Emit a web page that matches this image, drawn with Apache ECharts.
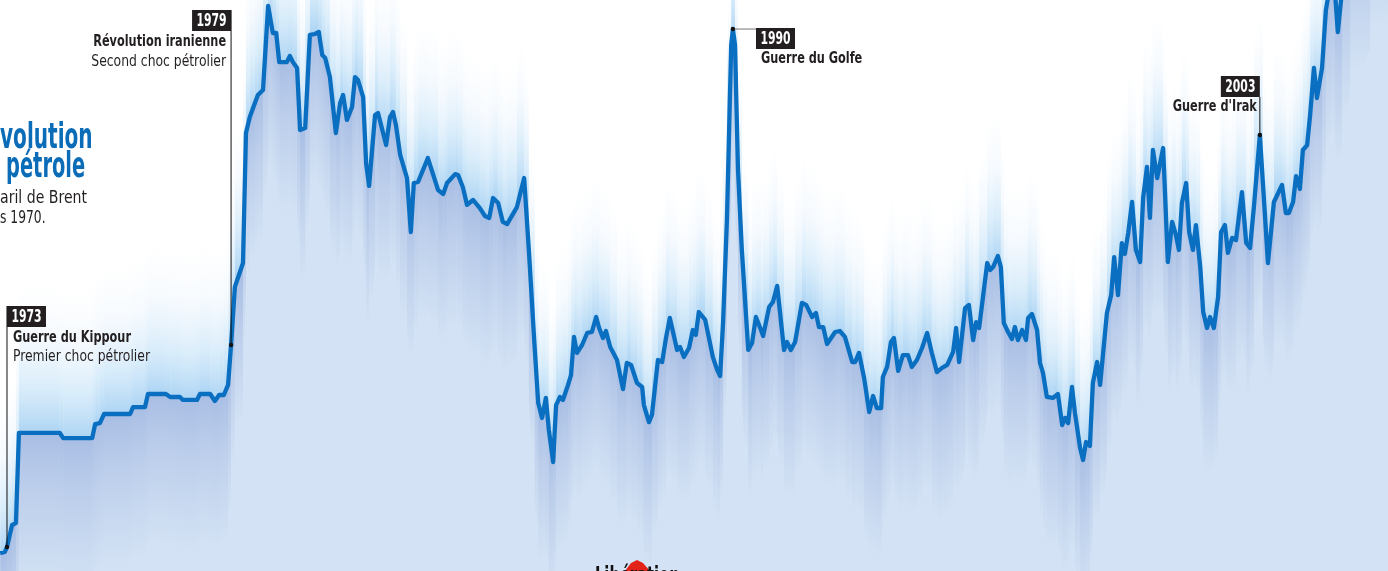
<!DOCTYPE html>
<html><head><meta charset="utf-8">
<script src="https://cdn.jsdelivr.net/npm/echarts@6/dist/echarts.min.js"></script>
<style>html,body{margin:0;padding:0;background:#fff;}#c{width:1388px;height:571px;}</style>
</head><body><div id="c"></div>
<script>
// Brent price (USD/barrel), decimal years
const years = [1973.63,1973.74,1973.79,1973.91,1974.00,1974.07,1975.03,1975.11,1975.79,1975.86,1975.97,1976.07,1976.68,1976.75,1977.03,1977.10,1977.52,1977.62,1977.85,1977.92,1978.25,1978.32,1978.56,1978.67,1978.77,1978.88,1978.98,1979.05,1979.14,1979.33,1979.40,1979.49,1979.61,1979.68,1979.80,1979.92,1980.03,1980.11,1980.18,1980.27,1980.36,1980.43,1980.50,1980.60,1980.67,1980.79,1980.90,1981.02,1981.11,1981.19,1981.26,1981.37,1981.51,1981.61,1981.68,1981.77,1981.89,1981.96,1982.03,1982.15,1982.22,1982.29,1982.43,1982.50,1982.69,1982.78,1982.85,1982.92,1983.02,1983.18,1983.27,1983.34,1983.44,1983.67,1983.91,1984.03,1984.12,1984.31,1984.38,1984.49,1984.59,1984.73,1984.89,1985.01,1985.11,1985.20,1985.32,1985.43,1985.53,1985.76,1985.93,1986.04,1986.18,1986.26,1986.35,1986.44,1986.51,1986.61,1986.68,1986.77,1986.84,1986.96,1987.03,1987.10,1987.17,1987.29,1987.41,1987.52,1987.62,1987.69,1987.78,1987.85,1987.95,1988.11,1988.25,1988.34,1988.44,1988.58,1988.70,1988.74,1988.86,1988.93,1989.07,1989.17,1989.26,1989.35,1989.52,1989.59,1989.68,1989.80,1989.89,1989.96,1990.03,1990.18,1990.36,1990.46,1990.53,1990.60,1990.69,1990.79,1990.83,1990.88,1990.95,1991.04,1991.19,1991.28,1991.37,1991.49,1991.54,1991.68,1991.77,1991.87,1992.03,1992.10,1992.19,1992.29,1992.45,1992.55,1992.69,1992.78,1992.85,1992.95,1993.04,1993.23,1993.34,1993.46,1993.63,1993.70,1993.79,1993.91,1994.03,1994.12,1994.21,1994.31,1994.35,1994.45,1994.54,1994.61,1994.71,1994.82,1994.94,1995.03,1995.15,1995.27,1995.39,1995.50,1995.62,1995.74,1995.86,1995.90,1996.00,1996.07,1996.14,1996.28,1996.37,1996.47,1996.54,1996.61,1996.80,1996.87,1996.94,1997.05,1997.12,1997.19,1997.29,1997.38,1997.45,1997.52,1997.62,1997.71,1997.76,1997.85,1997.97,1998.04,1998.11,1998.20,1998.34,1998.46,1998.56,1998.63,1998.70,1998.79,1998.86,1998.98,1999.05,1999.12,1999.21,1999.28,1999.38,1999.45,1999.61,1999.71,1999.78,1999.87,1999.96,2000.03,2000.11,2000.20,2000.29,2000.39,2000.46,2000.55,2000.62,2000.69,2000.79,2000.93,2001.04,2001.14,2001.23,2001.30,2001.37,2001.47,2001.54,2001.63,2001.70,2001.80,2001.87,2001.96,2002.03,2002.12,2002.22,2002.29,2002.38,2002.45,2002.55,2002.64,2002.78,2002.88,2002.97,2003.06,2003.20,2003.27,2003.39,2003.53,2003.72,2003.81,2003.88,2003.98,2004.05,2004.14,2004.21,2004.31,2004.38,2004.47,2004.54,2004.66,2004.75,2004.85,2004.96,2005.03,2005.13,2005.32,2005.79,2006.37];
const prices = [4.48,4.55,4.85,6.18,6.30,11.76,11.76,11.45,11.45,12.30,12.36,12.91,12.91,13.33,13.33,14.12,14.12,13.94,13.94,13.76,13.76,14.12,14.12,13.70,14.06,14.06,14.67,17.09,20.61,22.06,29.94,30.91,31.76,32.24,32.55,37.64,36.00,36.00,34.24,34.24,34.24,34.61,34.24,33.88,30.12,30.24,35.88,35.94,36.06,34.67,34.48,33.33,29.94,31.76,32.24,30.73,31.52,33.33,33.15,32.12,28.12,26.73,31.03,31.15,29.21,30.91,31.21,30.42,28.61,27.21,23.94,26.91,26.97,28.42,26.48,26.24,26.91,27.45,27.39,26.67,25.58,25.88,25.39,24.91,24.79,26.00,25.70,24.55,24.42,25.45,27.21,22.85,16.79,13.58,12.67,13.88,11.94,10.00,13.45,13.94,13.76,14.67,15.27,17.58,16.61,17.09,17.82,17.88,18.79,18.12,17.52,17.94,16.97,16.18,14.42,16.00,15.88,14.79,14.55,13.45,12.42,12.85,16.18,16.06,17.52,18.73,16.79,16.97,16.36,16.91,18.00,17.70,19.09,18.61,16.36,15.58,15.21,18.48,24.67,35.27,36.24,35.27,27.70,22.85,16.79,17.21,18.79,18.00,17.64,19.39,19.70,20.67,16.79,17.27,16.79,17.27,19.64,19.52,18.79,19.03,18.18,18.18,17.15,17.88,17.94,17.58,16.06,16.06,16.61,15.09,13.03,14.00,13.27,13.27,15.15,15.76,17.27,17.52,15.52,16.48,16.48,15.76,16.18,16.91,17.82,16.61,15.45,15.70,15.88,16.00,16.67,18.12,16.06,19.33,19.52,17.39,18.48,18.12,22.06,21.64,21.82,22.48,21.82,18.42,17.88,17.45,18.18,17.39,18.00,17.39,18.73,18.97,18.00,16.00,15.39,13.94,13.88,14.12,12.24,12.67,12.36,14.55,12.97,10.85,10.12,11.21,10.97,14.79,16.06,14.67,19.03,20.12,22.42,20.12,23.27,22.61,23.88,25.76,22.85,22.12,26.00,27.88,24.79,28.91,27.21,29.03,22.12,24.55,23.76,22.85,25.70,26.91,23.94,22.85,24.36,21.82,19.09,18.12,18.79,18.12,20.00,23.94,24.36,22.67,23.58,23.45,26.36,23.27,22.97,25.45,29.82,26.97,22.06,25.76,26.79,25.09,25.09,25.76,27.33,26.55,28.91,29.21,31.03,33.88,32.06,33.88,37.39,38.91,38.61,36.06,38.61,41.64,44.06,47.09];

// annotated events
const eventYears  = ['1973','1979','1990','2003'];
const eventDates  = [1973.79, 1979.05, 1990.83, 2003.20];
const eventPrices = [4.85, 17.09, 36.24, 29.82];
const eventTitles = ['Guerre du Kippour','Révolution iranienne','Guerre du Golfe','Guerre d\'Irak'];
const eventSubs   = ['Premier choc pétrolier','Second choc pétrolier','',''];

const titleLines = ['volution','pétrole'];
const subLines = ['aril de Brent','s 1970.'];

const data = years.map((y,i)=>[y,prices[i]]);
const FN = "'DejaVu Sans Condensed','Liberation Sans',sans-serif";

// soft bands following the line: dir -1 = glow above, +1 = shade below
function bandSeries(dir, H, stops, z){
  return {type:'custom', z:z, silent:true, clip:true, data:data.slice(0,-1),
    renderItem:function(params, api){
      const i = params.dataIndex;
      const a = api.coord(data[i]), b = api.coord(data[i+1]);
      const ym = (a[1]+b[1])/2;
      const grad = new echarts.graphic.LinearGradient(0, ym, 0, ym+dir*H,
        stops.map(s=>({offset:s[0],color:s[1]})), true);
      return {type:'polygon', shape:{points:[[a[0],a[1]],[b[0],b[1]],[b[0],b[1]+dir*H],[a[0],a[1]+dir*H]]},
        style:{fill:grad}};
    }};
}

const chart = echarts.init(document.getElementById('c'));
chart.setOption({
  animation:false,
  backgroundColor:'#ffffff',
  grid:{left:0,right:0,top:0,bottom:0},
  xAxis:{type:'value',min:1973.626,max:2006.208,show:false},
  yAxis:{type:'value',min:3.394,max:38,show:false},
  series:[
    bandSeries(-1, 150, [[0,'rgba(118,184,236,0.6)'],[0.3,'rgba(150,204,242,0.36)'],[0.65,'rgba(180,215,246,0.12)'],[1,'rgba(200,225,250,0)']], 1),
    {type:'line',data:data,symbol:'none',z:2,silent:true,
     lineStyle:{width:0,opacity:0},
     areaStyle:{color:'#d3e2f4',opacity:1}},
    bandSeries(1, 150, [[0,'rgba(105,135,205,0.40)'],[0.35,'rgba(110,140,205,0.24)'],[1,'rgba(110,140,205,0)']], 3),
    {type:'line',data:data,symbol:'none',z:4,silent:true,
     lineStyle:{width:4.3,color:'#0a6fc0',join:'round'}}
  ]
});

const P = i => chart.convertToPixel({gridIndex:0},[eventDates[i],eventPrices[i]]);
const BOX = '#231f20';
const g = [];
function box(x,y,label){
  g.push({type:'rect',shape:{x:x,y:y,width:39,height:21},style:{fill:BOX},z:10});
  g.push({type:'text',x:x+19.5,y:y+11,scaleX:0.67,z:11,style:{text:label,fill:'#fff',font:'bold 18px '+FN,align:'center',verticalAlign:'middle'}});
}
function txt(x,y,s,bold,align){
  g.push({type:'text',x:x,y:y,scaleX:bold?0.785:0.86,z:11,style:{text:s,fill:BOX,font:(bold?'bold ':'')+'16px '+FN,align:align||'left',verticalAlign:'middle'}});
}
function dot(p){g.push({type:'circle',shape:{cx:p[0],cy:p[1],r:2.2},style:{fill:'#111'},z:12});}
function vline(x1,y1,x2,y2,c){g.push({type:'line',shape:{x1:x1,y1:y1,x2:x2,y2:y2},style:{stroke:c||'#111',lineWidth:1},z:9});}

// 1973
let p = P(0);
vline(p[0],306,p[0],p[1]); box(p[0],306,eventYears[0]);
txt(p[0]+6,338,eventTitles[0],true); txt(p[0]+6,357,eventSubs[0],false); dot(p);
// 1979
p = P(1);
vline(p[0],10,p[0],p[1]); box(p[0]-39,10,eventYears[1]);
txt(p[0]-5,42,eventTitles[1],true,'right'); txt(p[0]-5,62,eventSubs[1],false,'right'); dot(p);
// 1990
p = P(2);
vline(p[0],p[1],756,p[1],'#777'); box(756,28,eventYears[2]);
txt(761,59,eventTitles[2],true); dot(p);
// 2003
p = P(3);
vline(p[0],97,p[0],p[1]); box(p[0]-39,76,eventYears[3]);
txt(p[0]-3,107,eventTitles[3],true,'right'); dot(p);

// title (cropped at left edge)
g.push({type:'text',x:0,y:139,scaleX:0.62,z:11,style:{text:titleLines[0],fill:'#0b6cb7',font:'bold 36px '+FN,align:'left',verticalAlign:'middle'}});
g.push({type:'text',x:6,y:168,scaleX:0.6,z:11,style:{text:titleLines[1],fill:'#0b6cb7',font:'bold 36px '+FN,align:'left',verticalAlign:'middle'}});
g.push({type:'text',x:0,y:198,scaleX:0.87,z:11,style:{text:subLines[0],fill:BOX,font:'18px '+FN,align:'left',verticalAlign:'middle'}});
g.push({type:'text',x:0,y:218,scaleX:0.76,z:11,style:{text:subLines[1],fill:BOX,font:'18px '+FN,align:'left',verticalAlign:'middle'}});

// logo (cropped at bottom)
g.push({type:'polygon',shape:{points:[[625,571],[631,563],[637,560],[643,563],[650,571]]},style:{fill:'#e2231a'},z:11});
g.push({type:'text',x:595,y:566,scaleX:0.68,z:12,style:{text:'Libération',fill:'#111',font:'bold 24px '+FN,align:'left',verticalAlign:'top'}});

chart.setOption({graphic:g});
</script></body></html>
